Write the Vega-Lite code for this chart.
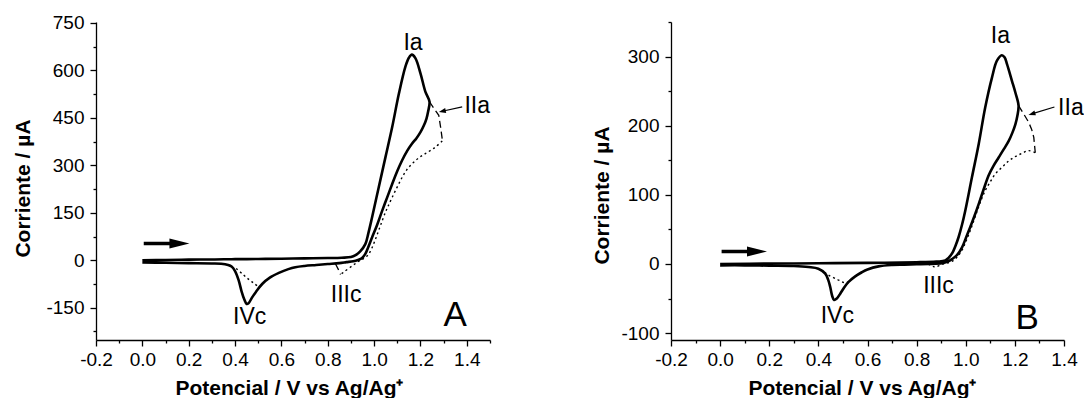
{
  "$schema": "https://vega.github.io/schema/vega-lite/v6.json",
  "background": "white",
  "padding": {"left": 12, "top": 13, "right": 0, "bottom": 0},
  "bounds": "flush",
  "spacing": 181,
  "config": {
    "view": {"stroke": null},
    "axis": {
      "grid": false,
      "domainColor": "#000",
      "domainWidth": 1.3,
      "tickColor": "#000",
      "tickWidth": 1.3,
      "labelFont": "Liberation Sans",
      "labelFontSize": 19,
      "labelColor": "#000",
      "titleFont": "Liberation Sans",
      "titleFontSize": 21,
      "titleFontWeight": "bold",
      "titleColor": "#000",
      "labelOverlap": false,
      "labelFlush": false
    },
    "text": {"font": "Liberation Sans", "color": "#000"}
  },
  "datasets": {
    "curvesA": [
      {"s":"solid","g":1,"V":0,"I":0},{"s":"solid","g":1,"V":0.1,"I":1},{"s":"solid","g":1,"V":0.2,"I":2},{"s":"solid","g":1,"V":0.3,"I":2.5},{"s":"solid","g":1,"V":0.4,"I":3.5},{"s":"solid","g":1,"V":0.5,"I":4},{"s":"solid","g":1,"V":0.6,"I":5},{"s":"solid","g":1,"V":0.7,"I":6},{"s":"solid","g":1,"V":0.8,"I":7},{"s":"solid","g":1,"V":0.86,"I":8},{"s":"solid","g":1,"V":0.9,"I":10},{"s":"solid","g":1,"V":0.92,"I":16},{"s":"solid","g":1,"V":0.94,"I":28},{"s":"solid","g":1,"V":0.962,"I":51},{"s":"solid","g":1,"V":0.975,"I":85},{"s":"solid","g":1,"V":0.991,"I":135},{"s":"solid","g":1,"V":1.02,"I":231},{"s":"solid","g":1,"V":1.049,"I":326},{"s":"solid","g":1,"V":1.078,"I":421},{"s":"solid","g":1,"V":1.107,"I":527},{"s":"solid","g":1,"V":1.135,"I":612},{"s":"solid","g":1,"V":1.15,"I":640},{"s":"solid","g":1,"V":1.163,"I":650},{"s":"solid","g":1,"V":1.178,"I":639},{"s":"solid","g":1,"V":1.2,"I":591},{"s":"solid","g":1,"V":1.221,"I":533},{"s":"solid","g":1,"V":1.239,"I":501},
      {"s":"solid","g":1,"V":1.233,"I":470},{"s":"solid","g":1,"V":1.226,"I":448},{"s":"solid","g":1,"V":1.214,"I":425},{"s":"solid","g":1,"V":1.2,"I":405},{"s":"solid","g":1,"V":1.182,"I":385},{"s":"solid","g":1,"V":1.164,"I":369},{"s":"solid","g":1,"V":1.142,"I":345},{"s":"solid","g":1,"V":1.121,"I":316},{"s":"solid","g":1,"V":1.1,"I":282},{"s":"solid","g":1,"V":1.078,"I":241},{"s":"solid","g":1,"V":1.056,"I":198},{"s":"solid","g":1,"V":1.035,"I":157},{"s":"solid","g":1,"V":1.012,"I":110},{"s":"solid","g":1,"V":0.991,"I":72},{"s":"solid","g":1,"V":0.975,"I":42},{"s":"solid","g":1,"V":0.962,"I":20},{"s":"solid","g":1,"V":0.948,"I":7},{"s":"solid","g":1,"V":0.93,"I":1},{"s":"solid","g":1,"V":0.91,"I":-3},{"s":"solid","g":1,"V":0.88,"I":-6},{"s":"solid","g":1,"V":0.85,"I":-9},{"s":"solid","g":1,"V":0.8,"I":-12},{"s":"solid","g":1,"V":0.75,"I":-15},{"s":"solid","g":1,"V":0.7,"I":-18},{"s":"solid","g":1,"V":0.66,"I":-22},{"s":"solid","g":1,"V":0.63,"I":-28},{"s":"solid","g":1,"V":0.589,"I":-40},{"s":"solid","g":1,"V":0.55,"I":-55},{"s":"solid","g":1,"V":0.517,"I":-75},{"s":"solid","g":1,"V":0.49,"I":-100},{"s":"solid","g":1,"V":0.473,"I":-118},{"s":"solid","g":1,"V":0.458,"I":-136},{"s":"solid","g":1,"V":0.45,"I":-138},{"s":"solid","g":1,"V":0.44,"I":-124},{"s":"solid","g":1,"V":0.428,"I":-98},{"s":"solid","g":1,"V":0.415,"I":-62},{"s":"solid","g":1,"V":0.4,"I":-34},{"s":"solid","g":1,"V":0.385,"I":-20},{"s":"solid","g":1,"V":0.37,"I":-15},{"s":"solid","g":1,"V":0.34,"I":-11},{"s":"solid","g":1,"V":0.3,"I":-10},{"s":"solid","g":1,"V":0.2,"I":-9},{"s":"solid","g":1,"V":0.1,"I":-8},{"s":"solid","g":1,"V":0,"I":-7},
      {"s":"dash","g":2,"V":1.239,"I":501},{"s":"dash","g":2,"V":1.258,"I":480},{"s":"dash","g":2,"V":1.279,"I":458},{"s":"dash","g":2,"V":1.287,"I":420},{"s":"dash","g":2,"V":1.294,"I":382},
      {"s":"dash","g":3,"V":0.833,"I":-11},{"s":"dash","g":3,"V":0.845,"I":-28},{"s":"dash","g":3,"V":0.855,"I":-45},
      {"s":"dot","g":4,"V":1.294,"I":377},{"s":"dot","g":4,"V":1.26,"I":355},{"s":"dot","g":4,"V":1.221,"I":337},{"s":"dot","g":4,"V":1.19,"I":322},{"s":"dot","g":4,"V":1.164,"I":305},{"s":"dot","g":4,"V":1.14,"I":285},{"s":"dot","g":4,"V":1.121,"I":262},{"s":"dot","g":4,"V":1.1,"I":232},{"s":"dot","g":4,"V":1.078,"I":199},{"s":"dot","g":4,"V":1.06,"I":170},{"s":"dot","g":4,"V":1.049,"I":152},{"s":"dot","g":4,"V":1.035,"I":125},{"s":"dot","g":4,"V":1.02,"I":95},{"s":"dot","g":4,"V":1.005,"I":65},{"s":"dot","g":4,"V":0.99,"I":38},{"s":"dot","g":4,"V":0.975,"I":18},{"s":"dot","g":4,"V":0.96,"I":8},{"s":"dot","g":4,"V":0.945,"I":1},{"s":"dot","g":4,"V":0.934,"I":-3},{"s":"dot","g":4,"V":0.855,"I":-45},
      {"s":"dot","g":5,"V":0.405,"I":-26},{"s":"dot","g":5,"V":0.43,"I":-42},{"s":"dot","g":5,"V":0.455,"I":-58},{"s":"dot","g":5,"V":0.48,"I":-72},{"s":"dot","g":5,"V":0.505,"I":-86}
    ],
    "curvesB": [
      {"s":"solid","g":1,"V":0,"I":0},{"s":"solid","g":1,"V":0.2,"I":0.5},{"s":"solid","g":1,"V":0.4,"I":1},{"s":"solid","g":1,"V":0.6,"I":1.5},{"s":"solid","g":1,"V":0.8,"I":2.5},{"s":"solid","g":1,"V":0.88,"I":3.5},{"s":"solid","g":1,"V":0.917,"I":5},{"s":"solid","g":1,"V":0.944,"I":15},{"s":"solid","g":1,"V":0.958,"I":26},{"s":"solid","g":1,"V":0.971,"I":39},{"s":"solid","g":1,"V":0.985,"I":57},{"s":"solid","g":1,"V":0.998,"I":77},{"s":"solid","g":1,"V":1.025,"I":125},{"s":"solid","g":1,"V":1.053,"I":174},{"s":"solid","g":1,"V":1.079,"I":226},{"s":"solid","g":1,"V":1.107,"I":270},{"s":"solid","g":1,"V":1.127,"I":294},{"s":"solid","g":1,"V":1.147,"I":302},{"s":"solid","g":1,"V":1.158,"I":299},{"s":"solid","g":1,"V":1.168,"I":289},{"s":"solid","g":1,"V":1.188,"I":265},{"s":"solid","g":1,"V":1.202,"I":248},{"s":"solid","g":1,"V":1.215,"I":229},
      {"s":"solid","g":1,"V":1.21,"I":214},{"s":"solid","g":1,"V":1.202,"I":202},{"s":"solid","g":1,"V":1.19,"I":190},{"s":"solid","g":1,"V":1.175,"I":178},{"s":"solid","g":1,"V":1.155,"I":166},{"s":"solid","g":1,"V":1.134,"I":154},{"s":"solid","g":1,"V":1.113,"I":142},{"s":"solid","g":1,"V":1.093,"I":128},{"s":"solid","g":1,"V":1.073,"I":108},{"s":"solid","g":1,"V":1.053,"I":87},{"s":"solid","g":1,"V":1.035,"I":69},{"s":"solid","g":1,"V":1.018,"I":53},{"s":"solid","g":1,"V":1,"I":37},{"s":"solid","g":1,"V":0.985,"I":24},{"s":"solid","g":1,"V":0.965,"I":13},{"s":"solid","g":1,"V":0.944,"I":7},{"s":"solid","g":1,"V":0.925,"I":3},{"s":"solid","g":1,"V":0.903,"I":1},{"s":"solid","g":1,"V":0.85,"I":0},{"s":"solid","g":1,"V":0.8,"I":-0.5},{"s":"solid","g":1,"V":0.75,"I":-1},{"s":"solid","g":1,"V":0.7,"I":-1.5},{"s":"solid","g":1,"V":0.645,"I":-3.5},{"s":"solid","g":1,"V":0.6,"I":-8},{"s":"solid","g":1,"V":0.577,"I":-12},{"s":"solid","g":1,"V":0.55,"I":-18},{"s":"solid","g":1,"V":0.523,"I":-26},{"s":"solid","g":1,"V":0.505,"I":-34},{"s":"solid","g":1,"V":0.489,"I":-43},{"s":"solid","g":1,"V":0.475,"I":-50},{"s":"solid","g":1,"V":0.464,"I":-52},{"s":"solid","g":1,"V":0.456,"I":-46},{"s":"solid","g":1,"V":0.448,"I":-33},{"s":"solid","g":1,"V":0.44,"I":-23},{"s":"solid","g":1,"V":0.428,"I":-14},{"s":"solid","g":1,"V":0.4,"I":-7},{"s":"solid","g":1,"V":0.36,"I":-4.5},{"s":"solid","g":1,"V":0.3,"I":-3},{"s":"solid","g":1,"V":0.2,"I":-2.5},{"s":"solid","g":1,"V":0.1,"I":-2},{"s":"solid","g":1,"V":0,"I":-2},
      {"s":"dash","g":2,"V":1.215,"I":229},{"s":"dash","g":2,"V":1.236,"I":217},{"s":"dash","g":2,"V":1.256,"I":205},{"s":"dash","g":2,"V":1.268,"I":195},{"s":"dash","g":2,"V":1.277,"I":183},{"s":"dash","g":2,"V":1.283,"I":161},
      {"s":"dot","g":3,"V":1.283,"I":161},{"s":"dot","g":3,"V":1.256,"I":164},{"s":"dot","g":3,"V":1.229,"I":160},{"s":"dot","g":3,"V":1.2,"I":155},{"s":"dot","g":3,"V":1.175,"I":149},{"s":"dot","g":3,"V":1.148,"I":140},{"s":"dot","g":3,"V":1.12,"I":130},{"s":"dot","g":3,"V":1.1,"I":119},{"s":"dot","g":3,"V":1.079,"I":106},{"s":"dot","g":3,"V":1.06,"I":90},{"s":"dot","g":3,"V":1.045,"I":75},{"s":"dot","g":3,"V":1.03,"I":60},{"s":"dot","g":3,"V":1.015,"I":45},{"s":"dot","g":3,"V":1,"I":32},{"s":"dot","g":3,"V":0.985,"I":20},{"s":"dot","g":3,"V":0.965,"I":10},{"s":"dot","g":3,"V":0.945,"I":4},{"s":"dot","g":3,"V":0.92,"I":1},{"s":"dot","g":3,"V":0.9,"I":-1},{"s":"dot","g":3,"V":0.88,"I":-4},{"s":"dot","g":3,"V":0.87,"I":-4},{"s":"dot","g":3,"V":0.86,"I":-2},{"s":"dot","g":3,"V":0.84,"I":0},
      {"s":"dot","g":4,"V":0.425,"I":-12},{"s":"dot","g":4,"V":0.441,"I":-16},{"s":"dot","g":4,"V":0.475,"I":-22},{"s":"dot","g":4,"V":0.505,"I":-27},{"s":"dot","g":4,"V":0.523,"I":-26}
    ],
    "notesA": [
      {"t":"Ia","V":1.168,"I":688},
      {"t":"IIa","V":1.445,"I":487},
      {"t":"IIIc","V":0.879,"I":-110},
      {"t":"IVc","V":0.463,"I":-179}
    ],
    "notesB": [
      {"t":"Ia","V":1.141,"I":330},
      {"t":"IIa","V":1.428,"I":225},
      {"t":"IIIc","V":0.889,"I":-32},
      {"t":"IVc","V":0.477,"I":-75}
    ],
    "tagA": [{"t":"A","V":1.35,"I":-172}],
    "tagB": [{"t":"B","V":1.25,"I":-78}],
    "sweepA": [{"V":0.006,"V2":0.16,"I":53}],
    "sweepB": [{"V":0.006,"V2":0.15,"I":18}],
    "pointerA": [{"V":1.38,"V2":1.294,"I":485,"I2":471}],
    "pointerB": [{"V":1.361,"V2":1.269,"I":227,"I2":217}]
  },
  "hconcat": [
    {
      "width": 394,
      "height": 318,
      "encoding": {
        "x": {
          "field": "V", "type": "quantitative",
          "scale": {"domain": [-0.2, 1.5], "nice": false, "zero": false},
          "axis": {
            "values": [-0.2,-0.1,0,0.1,0.2,0.3,0.4,0.5,0.6,0.7,0.8,0.9,1,1.1,1.2,1.3,1.4,1.5],
            "labelExpr": "abs(round(datum.value*10)) % 2 == 0 ? (datum.value < 0 ? '-' : '') + format(abs(datum.value), '.1f') : ''",
            "tickSize": {"condition": {"test": "abs(round(datum.value*10)) % 2 == 0", "value": 6}, "value": 3},
            "labelPadding": 4,
            "title": "Potencial / V vs Ag/Ag⁺",
            "titleX": 193,
            "titleY": 54,
            "titleBaseline": "alphabetic"
          }
        },
        "y": {
          "field": "I", "type": "quantitative",
          "scale": {"domain": [-252, 753], "nice": false, "zero": false},
          "axis": {
            "values": [-225,-150,-75,0,75,150,225,300,375,450,525,600,675,750],
            "labelExpr": "datum.value % 150 == 0 ? (datum.value < 0 ? '-' + abs(datum.value) : '' + datum.value) : ''",
            "tickSize": {"condition": {"test": "datum.value % 150 == 0", "value": 6}, "value": 3},
            "labelPadding": 6,
            "title": "Corriente / µA",
            "titleX": -73,
            "titleY": 166,
            "titleBaseline": "middle"
          }
        }
      },
      "layer": [
        {
          "data": {"name": "curvesA"},
          "transform": [{"filter": "datum.s == 'solid'"}],
          "mark": {"type": "line", "interpolate": "catmull-rom", "color": "#000", "strokeWidth": 2.6, "clip": false},
          "encoding": {"detail": {"field": "g"}, "order": {"value": null}}
        },
        {
          "data": {"name": "curvesA"},
          "transform": [{"filter": "datum.s == 'dash'"}],
          "mark": {"type": "line", "interpolate": "linear", "color": "#000", "strokeWidth": 1.3, "strokeDash": [7, 4]},
          "encoding": {"detail": {"field": "g"}, "order": {"value": null}}
        },
        {
          "data": {"name": "curvesA"},
          "transform": [{"filter": "datum.s == 'dot'"}],
          "mark": {"type": "line", "interpolate": "catmull-rom", "color": "#000", "strokeWidth": 1.4, "strokeDash": [2, 3]},
          "encoding": {"detail": {"field": "g"}, "order": {"value": null}}
        },
        {
          "data": {"name": "notesA"},
          "mark": {"type": "text", "fontSize": 23, "align": "center", "baseline": "middle"},
          "encoding": {"text": {"field": "t"}}
        },
        {
          "data": {"name": "tagA"},
          "mark": {"type": "text", "fontSize": 35, "align": "center", "baseline": "middle"},
          "encoding": {"text": {"field": "t"}}
        },
        {
          "data": {"name": "sweepA"},
          "mark": {"type": "rule", "color": "#000", "strokeWidth": 3.5},
          "encoding": {"x2": {"field": "V2"}}
        },
        {
          "data": {"name": "sweepA"},
          "mark": {"type": "point", "shape": "M-1,-0.5L1,0L-1,0.5Z", "filled": true, "color": "#000", "opacity": 1, "size": 400},
          "encoding": {"x": {"field": "V2", "type": "quantitative"}}
        },
        {
          "data": {"name": "pointerA"},
          "mark": {"type": "rule", "color": "#000", "strokeWidth": 1.2},
          "encoding": {"x2": {"field": "V2"}, "y2": {"field": "I2"}}
        },
        {
          "data": {"name": "pointerA"},
          "mark": {"type": "point", "shape": "M1,-0.7L-1,0L1,0.7Z", "filled": true, "color": "#000", "opacity": 1, "size": 49, "angle": 348},
          "encoding": {"x": {"field": "V2", "type": "quantitative"}, "y": {"field": "I2", "type": "quantitative"}}
        }
      ]
    },
    {
      "width": 393,
      "height": 318,
      "encoding": {
        "x": {
          "field": "V", "type": "quantitative",
          "scale": {"domain": [-0.2, 1.4], "nice": false, "zero": false},
          "axis": {
            "values": [-0.2,-0.1,0,0.1,0.2,0.3,0.4,0.5,0.6,0.7,0.8,0.9,1,1.1,1.2,1.3,1.4],
            "labelExpr": "abs(round(datum.value*10)) % 2 == 0 ? (datum.value < 0 ? '-' : '') + format(abs(datum.value), '.1f') : ''",
            "tickSize": {"condition": {"test": "abs(round(datum.value*10)) % 2 == 0", "value": 6}, "value": 3},
            "labelPadding": 4,
            "title": "Potencial / V vs Ag/Ag⁺",
            "titleX": 191,
            "titleY": 54,
            "titleBaseline": "alphabetic"
          }
        },
        "y": {
          "field": "I", "type": "quantitative",
          "scale": {"domain": [-110, 350], "nice": false, "zero": false},
          "axis": {
            "values": [-100,-50,0,50,100,150,200,250,300,350],
            "labelExpr": "datum.value % 100 == 0 ? (datum.value < 0 ? '-' + abs(datum.value) : '' + datum.value) : ''",
            "tickSize": {"condition": {"test": "datum.value % 100 == 0", "value": 6}, "value": 3},
            "labelPadding": 6,
            "title": "Corriente / µA",
            "titleX": -69,
            "titleY": 173,
            "titleBaseline": "middle"
          }
        }
      },
      "layer": [
        {
          "data": {"name": "curvesB"},
          "transform": [{"filter": "datum.s == 'solid'"}],
          "mark": {"type": "line", "interpolate": "catmull-rom", "color": "#000", "strokeWidth": 2.6, "clip": false},
          "encoding": {"detail": {"field": "g"}, "order": {"value": null}}
        },
        {
          "data": {"name": "curvesB"},
          "transform": [{"filter": "datum.s == 'dash'"}],
          "mark": {"type": "line", "interpolate": "linear", "color": "#000", "strokeWidth": 1.3, "strokeDash": [7, 4]},
          "encoding": {"detail": {"field": "g"}, "order": {"value": null}}
        },
        {
          "data": {"name": "curvesB"},
          "transform": [{"filter": "datum.s == 'dot'"}],
          "mark": {"type": "line", "interpolate": "catmull-rom", "color": "#000", "strokeWidth": 1.4, "strokeDash": [2, 3]},
          "encoding": {"detail": {"field": "g"}, "order": {"value": null}}
        },
        {
          "data": {"name": "notesB"},
          "mark": {"type": "text", "fontSize": 23, "align": "center", "baseline": "middle"},
          "encoding": {"text": {"field": "t"}}
        },
        {
          "data": {"name": "tagB"},
          "mark": {"type": "text", "fontSize": 35, "align": "center", "baseline": "middle"},
          "encoding": {"text": {"field": "t"}}
        },
        {
          "data": {"name": "sweepB"},
          "mark": {"type": "rule", "color": "#000", "strokeWidth": 3.5},
          "encoding": {"x2": {"field": "V2"}}
        },
        {
          "data": {"name": "sweepB"},
          "mark": {"type": "point", "shape": "M-1,-0.5L1,0L-1,0.5Z", "filled": true, "color": "#000", "opacity": 1, "size": 400},
          "encoding": {"x": {"field": "V2", "type": "quantitative"}}
        },
        {
          "data": {"name": "pointerB"},
          "mark": {"type": "rule", "color": "#000", "strokeWidth": 1.2},
          "encoding": {"x2": {"field": "V2"}, "y2": {"field": "I2"}}
        },
        {
          "data": {"name": "pointerB"},
          "mark": {"type": "point", "shape": "M1,-0.7L-1,0L1,0.7Z", "filled": true, "color": "#000", "opacity": 1, "size": 49, "angle": 342},
          "encoding": {"x": {"field": "V2", "type": "quantitative"}, "y": {"field": "I2", "type": "quantitative"}}
        }
      ]
    }
  ]
}
